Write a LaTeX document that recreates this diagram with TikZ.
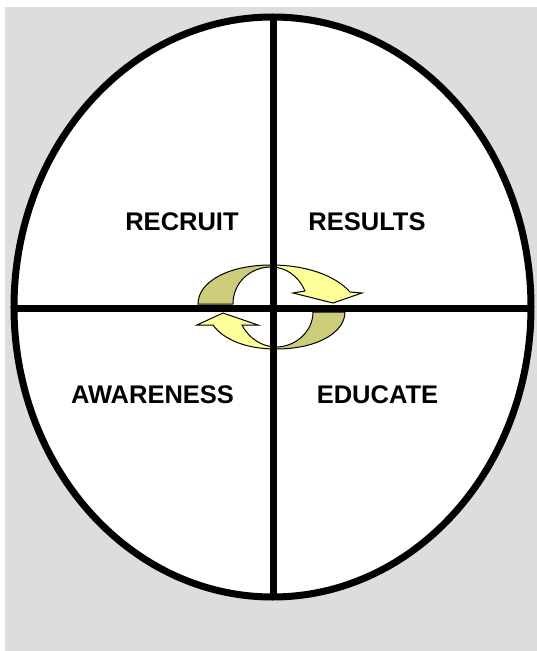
\documentclass[tikz,border=0pt]{standalone}
\usepackage{fontspec}
\setmainfont{Liberation Sans}
\usetikzlibrary{shapes.geometric}
\definecolor{bggrey}{HTML}{DDDDDD}
\definecolor{arrlight}{HTML}{FFFF99}
\definecolor{arrdark}{HTML}{CCCC7A}
\begin{document}
\begin{tikzpicture}[x=1pt,y=1pt,
  lbl/.style={font=\fontsize{25.5}{30}\selectfont\bfseries, inner sep=0pt, anchor=center},
  heavy/.style={line width=7pt, black},
  arrl/.style={fill=arrlight, draw=black, line width=1pt, line join=miter},
  arrd/.style={fill=arrdark, draw=black, line width=1pt, line join=miter}]
\useasboundingbox (-273,-344) rectangle (264,307);
\fill[bggrey] (-268,300) rectangle (264,-344);
% big ellipse
\node[draw=black, line width=7pt, fill=white, shape=ellipse, minimum width=517pt, minimum height=580pt, inner sep=0pt, outer sep=0pt] (oval) at (-0.5,0) {};
% top arrow: dark part
\path[arrd] (-2,42) .. controls (-45,42) and (-75,25) .. (-75,3)
  -- (-40,3) .. controls (-40,25) and (-22,40) .. (-2,40) -- cycle;
% top arrow: light part with head
\path[arrl] (-2,42) .. controls (32,42) and (62,32) .. (77,15)
  -- (89,14) -- (60,4) -- (20,14) -- (32,16)
  .. controls (25,32) and (12,40) .. (-2,40) -- cycle;
% bottom arrow: dark part
\path[arrd] (3,-42) .. controls (45,-42) and (72,-25) .. (72,-5)
  -- (40,-5) .. controls (40,-25) and (22,-40) .. (3,-40) -- cycle;
% bottom arrow: light part with head
\path[arrl] (3,-42) .. controls (-28,-42) and (-50,-32) .. (-60,-18)
  -- (-76,-18) -- (-50,-6) -- (-15,-18) -- (-31,-18)
  .. controls (-24,-32) and (-10,-40) .. (3,-40) -- cycle;
% cross lines
\coordinate (L) at (oval.west);
\coordinate (R) at (oval.east);
\coordinate (T) at (oval.north);
\coordinate (B) at (oval.south);
\draw[heavy, line cap=round] ([xshift=1pt,yshift=-1pt]L) -- ([xshift=-1pt,yshift=-1pt]R);
\draw[heavy, line cap=round] ([xshift=1pt,yshift=-2pt]T) -- ([xshift=1pt,yshift=1pt]B);
% labels
\node[lbl] (recruit) at (-91,85) {RECRUIT};
\node[lbl] (results) at (94,85) {RESULTS};
\node[lbl] (awareness) at (-120.5,-88) {AWARENESS};
\node[lbl] (educate) at (104.5,-88) {EDUCATE};
\end{tikzpicture}
\end{document}
